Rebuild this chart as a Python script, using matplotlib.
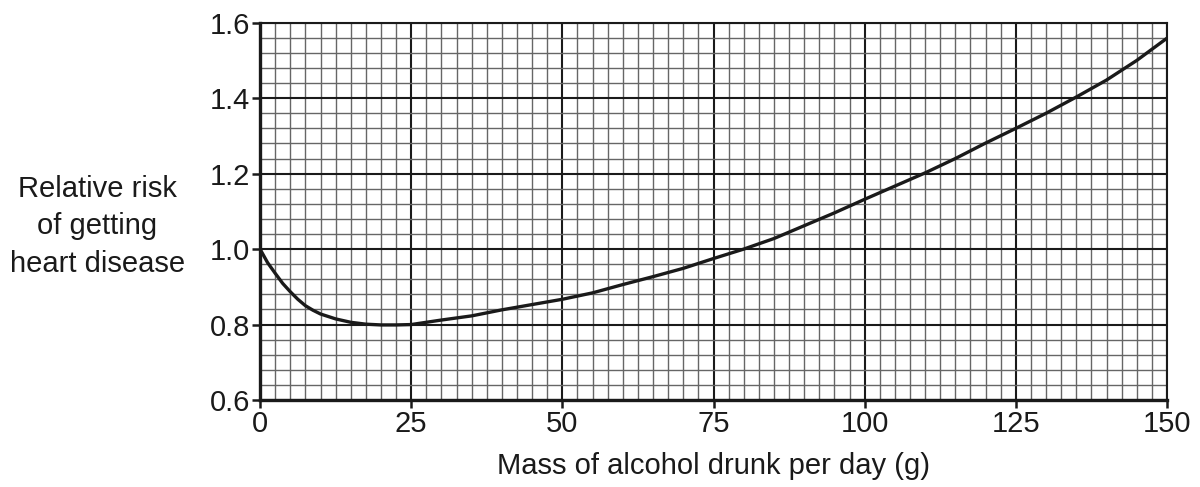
import numpy as np
import matplotlib.pyplot as plt
from matplotlib.ticker import MultipleLocator

plt.rcParams['font.family'] = ['Liberation Sans', 'DejaVu Sans']

# curve
alcohol = [0, 1.25, 2.5, 3.75, 5, 6.25, 7.5, 8.75, 10, 12.5, 15, 17.5, 20,
           22.5, 25, 30, 35, 40, 45, 50, 55, 60, 65, 70, 75, 80, 85, 90, 95,
           100, 105, 110, 115, 120, 125, 130, 135, 140, 145, 150]
risk = [1.0, 0.964, 0.936, 0.909, 0.887, 0.867, 0.850, 0.838, 0.828, 0.815,
        0.806, 0.801, 0.799, 0.799, 0.800, 0.812, 0.823, 0.839, 0.853, 0.867,
        0.884, 0.906, 0.927, 0.949, 0.975, 1.000, 1.028, 1.062, 1.096, 1.132,
        1.167, 1.202, 1.240, 1.281, 1.320, 1.360, 1.403, 1.448, 1.500, 1.559]

x_ticks = [0, 25, 50, 75, 100, 125, 150]
y_ticks = [0.6, 0.8, 1.0, 1.2, 1.4, 1.6]

fig = plt.figure(figsize=(12, 4.87), dpi=100)
ax = fig.add_axes([0.2167, 0.1786, 0.9725 - 0.2167, 0.9534 - 0.1786])

ax.set_xlim(0, 150)
ax.set_ylim(0.6, 1.6)
ax.set_xticks(x_ticks)
ax.set_yticks(y_ticks)
ax.set_yticklabels([f"{v:.1f}" for v in y_ticks])
ax.xaxis.set_minor_locator(MultipleLocator(2.5))
ax.yaxis.set_minor_locator(MultipleLocator(0.04))

# graph paper
ax.grid(which='minor', color='#666666', linewidth=1.0)
ax.grid(which='major', color='#1a1a1a', linewidth=1.5)
ax.set_axisbelow(True)

ax.plot(alcohol, risk, color='#1a1a1a', linewidth=2.4,
        solid_capstyle='round', solid_joinstyle='round')

ax.tick_params(which='minor', length=0)
ax.tick_params(which='major', direction='out', length=6, width=1.8,
               labelsize=21, pad=1, colors='#1a1a1a')
for side in ['left', 'bottom']:
    ax.spines[side].set_linewidth(2.4)
    ax.spines[side].set_color('#1a1a1a')
for side in ['top', 'right']:
    ax.spines[side].set_linewidth(1.5)
    ax.spines[side].set_color('#1a1a1a')

ax.set_xlabel('Mass of alcohol drunk per day (g)', fontsize=21,
              color='#1a1a1a', labelpad=10)
fig.text(0.081, 0.535, 'Relative risk\nof getting\nheart disease', fontsize=21,
         ha='center', va='center', linespacing=1.45, color='#1a1a1a')

fig.savefig('out.png', dpi=100)
